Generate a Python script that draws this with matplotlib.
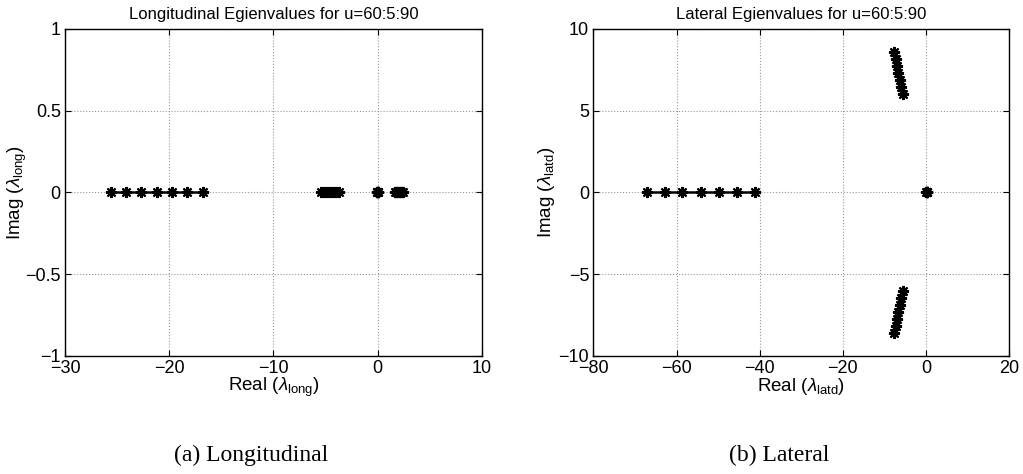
import matplotlib
matplotlib.use('Agg')
import matplotlib.pyplot as plt
import numpy as np

plt.rcParams['font.family'] = ['Liberation Sans', 'DejaVu Sans']
plt.rcParams['mathtext.fontset'] = 'custom'
plt.rcParams['mathtext.rm'] = 'Liberation Sans'
plt.rcParams['mathtext.it'] = 'Liberation Sans:italic'

# Продольные собственные значения (u = 60:5:90), все действительные
long_far = [-25.6, -24.1, -22.7, -21.2, -19.7, -18.3, -16.8]
long_mid = [-5.45, -5.16, -4.87, -4.58, -4.28, -3.99, -3.7]
long_zero = [-0.05, -0.03, -0.02, 0.0, 0.01, 0.02, 0.03]
long_pos = [1.63, 1.76, 1.89, 2.02, 2.14, 2.27, 2.4]

# Боковые собственные значения
latd_roll = [-67.2, -62.8, -58.6, -54.2, -49.9, -45.5, -41.1]
latd_dutch_re = [-7.7, -7.35, -7.0, -6.65, -6.3, -5.95, -5.6]
latd_dutch_im = [8.6, 8.17, 7.73, 7.3, 6.87, 6.43, 6.0]
latd_spiral = [0.05, 0.1, 0.12, 0.15, 0.18, 0.2, 0.22]

star = dict(color='k', marker=(8, 2, 0), markersize=8, markeredgewidth=1.5,
            linewidth=1.8, linestyle='-')

fig = plt.figure(figsize=(10.23, 4.74), dpi=100)
ax1 = fig.add_axes([0.0635, 0.249, 0.4076, 0.690])
ax2 = fig.add_axes([0.580, 0.249, 0.4066, 0.690])

for vals in [long_far, long_mid, long_zero, long_pos]:
    ax1.plot(vals, np.zeros(len(vals)), **star)

ax2.plot(latd_roll, np.zeros(len(latd_roll)), **star)
ax2.plot(latd_dutch_re, latd_dutch_im, **star)
ax2.plot(latd_dutch_re, -np.array(latd_dutch_im), **star)
ax2.plot(latd_spiral, np.zeros(len(latd_spiral)), **star)

ax1.set_xlim(-30, 10)
ax1.set_ylim(-1, 1)
ax1.set_xticks([-30, -20, -10, 0, 10])
ax1.set_yticks([-1, -0.5, 0, 0.5, 1])
ax1.set_yticklabels(['\u22121', '\u22120.5', '0', '0.5', '1'])
ax1.set_title('Longitudinal Egienvalues for u=60:5:90', fontsize=12, pad=7)
ax1.set_xlabel(r'Real ($\lambda_{\rm long}$)', fontsize=13.5)
ax1.set_ylabel(r'Imag ($\lambda_{\rm long}$)', fontsize=13.5)

ax2.set_xlim(-80, 20)
ax2.set_ylim(-10, 10)
ax2.set_xticks([-80, -60, -40, -20, 0, 20])
ax2.set_yticks([-10, -5, 0, 5, 10])
ax2.set_title('Lateral Egienvalues for u=60:5:90', fontsize=12, pad=7)
ax2.set_xlabel(r'Real ($\lambda_{\rm latd}$)', fontsize=13.5)
ax2.set_ylabel(r'Imag ($\lambda_{\rm latd}$)', fontsize=13.5)

for ax in (ax1, ax2):
    ax.grid(True, linestyle=':', color='#999999', linewidth=0.8)
    ax.tick_params(direction='in', length=4, labelsize=13, pad=3,
                   top=True, right=True)
    for s in ax.spines.values():
        s.set_linewidth(1.0)
    ax.xaxis.set_label_coords(0.5, -0.06)
    ax.xaxis.label.set_va('top')

ax1.yaxis.set_label_coords(-0.086, 0.5)
ax2.yaxis.set_label_coords(-0.088, 0.5)

fig.text(0.245, 0.04, '(a) Longitudinal', ha='center', va='center',
         fontsize=17, family='Liberation Serif')
fig.text(0.762, 0.04, '(b) Lateral', ha='center', va='center',
         fontsize=17, family='Liberation Serif')

fig.savefig('out.png', dpi=100)
